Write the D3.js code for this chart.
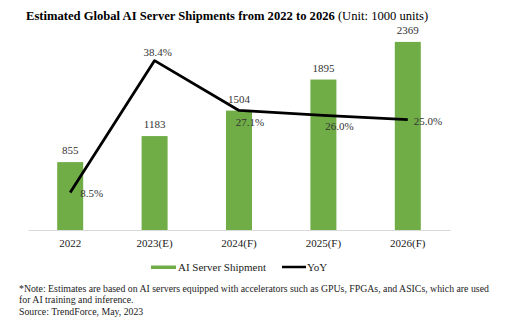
<!DOCTYPE html>
<html><head><meta charset="utf-8">
<script src="https://cdn.jsdelivr.net/npm/d3@7"></script>
<style>
html,body{margin:0;padding:0;background:#fff;}
svg{display:block;font-family:"Liberation Serif","Times New Roman",serif;}
</style></head>
<body><svg id="c" width="507" height="325"></svg>
<script>
const categories = ["2022","2023(E)","2024(F)","2025(F)","2026(F)"];
const shipments = [855, 1183, 1504, 1895, 2369];
const yoy = [8.5, 38.4, 27.1, 26.0, 25.0];
const yoyLabels = ["8.5%","38.4%","27.1%","26.0%","25.0%"];

const svg = d3.select("#c");
const x0 = 28, x1 = 450, yb = 230, yt = 31.5;
const x = d3.scaleBand().domain(categories).range([x0, x1]).paddingInner(0.692).paddingOuter(0.346);
const y = d3.scaleLinear().domain([0, 2500]).range([yb, yt]);
const y2 = d3.scaleLinear().domain([0, 45]).range([yb, yt]);
const green = "#70ad47";
const ff = "Liberation Serif, Times New Roman, serif";

// title
const title = svg.append("text").attr("x", 26).attr("y", 20).attr("font-size", 12.6).attr("font-family", ff).attr("fill", "#000");
title.append("tspan").attr("font-weight", "bold").text("Estimated Global AI Server Shipments from 2022 to 2026");
title.append("tspan").text(" (Unit: 1000 units)");

// axis
const xAxis = d3.axisBottom(x).tickSize(0).tickPadding(9);
const gx = svg.append("g").attr("transform", `translate(0,${yb})`).call(xAxis);
gx.select(".domain").attr("stroke", "#d9d9d9").attr("stroke-width", 1);
gx.selectAll("text").attr("font-size", 11).attr("font-family", ff).attr("fill", "#222");

// bars
svg.append("g").selectAll("rect").data(shipments).join("rect")
  .attr("x", (d, i) => x(categories[i]))
  .attr("width", x.bandwidth())
  .attr("y", d => y(d))
  .attr("height", d => yb - y(d))
  .attr("fill", green);

svg.append("g").selectAll("text").data(shipments).join("text")
  .attr("x", (d, i) => x(categories[i]) + x.bandwidth() / 2)
  .attr("y", d => y(d) - 8)
  .attr("text-anchor", "middle")
  .attr("font-size", 11).attr("font-family", ff).attr("fill", "#333")
  .text(d => d);

// line
const cx = i => x(categories[i]) + x.bandwidth() / 2;
const line = d3.line().x((d, i) => cx(i)).y(d => y2(d));
svg.append("path").datum(yoy).attr("d", line)
  .attr("fill", "none").attr("stroke", "#000").attr("stroke-width", 2.8)
  .attr("stroke-linejoin", "round");

const offs = [[10, 4, "start"], [3, -5, "middle"], [11, 16, "middle"], [16, 15, "middle"], [6, 5, "start"]];
svg.append("g").selectAll("text").data(yoy).join("text")
  .attr("x", (d, i) => cx(i) + offs[i][0])
  .attr("y", (d, i) => y2(d) + offs[i][1])
  .attr("text-anchor", (d, i) => offs[i][2])
  .attr("font-size", 11).attr("font-family", ff).attr("fill", "#333")
  .text((d, i) => yoyLabels[i]);

// legend
const lg = svg.append("g");
lg.append("rect").attr("x", 151).attr("y", 265.5).attr("width", 25).attr("height", 3.5).attr("fill", green);
lg.append("text").attr("x", 178).attr("y", 271).attr("font-size", 11).attr("font-family", ff).attr("fill", "#222").text("AI Server Shipment");
lg.append("line").attr("x1", 282).attr("x2", 306).attr("y1", 267).attr("y2", 267).attr("stroke", "#000").attr("stroke-width", 2.5);
lg.append("text").attr("x", 307).attr("y", 271).attr("font-size", 11).attr("font-family", ff).attr("fill", "#222").text("YoY");

// notes
const notes = ["*Note: Estimates are based on AI servers equipped with accelerators such as GPUs, FPGAs, and ASICs, which are used",
  "for AI training and inference.", "Source: TrendForce, May, 2023"];
svg.append("g").selectAll("text").data(notes).join("text")
  .attr("x", 19).attr("y", (d, i) => 292 + i * 11.3)
  .attr("font-size", 9.8).attr("font-family", ff).attr("fill", "#222").text(d => d);
</script></body></html>
